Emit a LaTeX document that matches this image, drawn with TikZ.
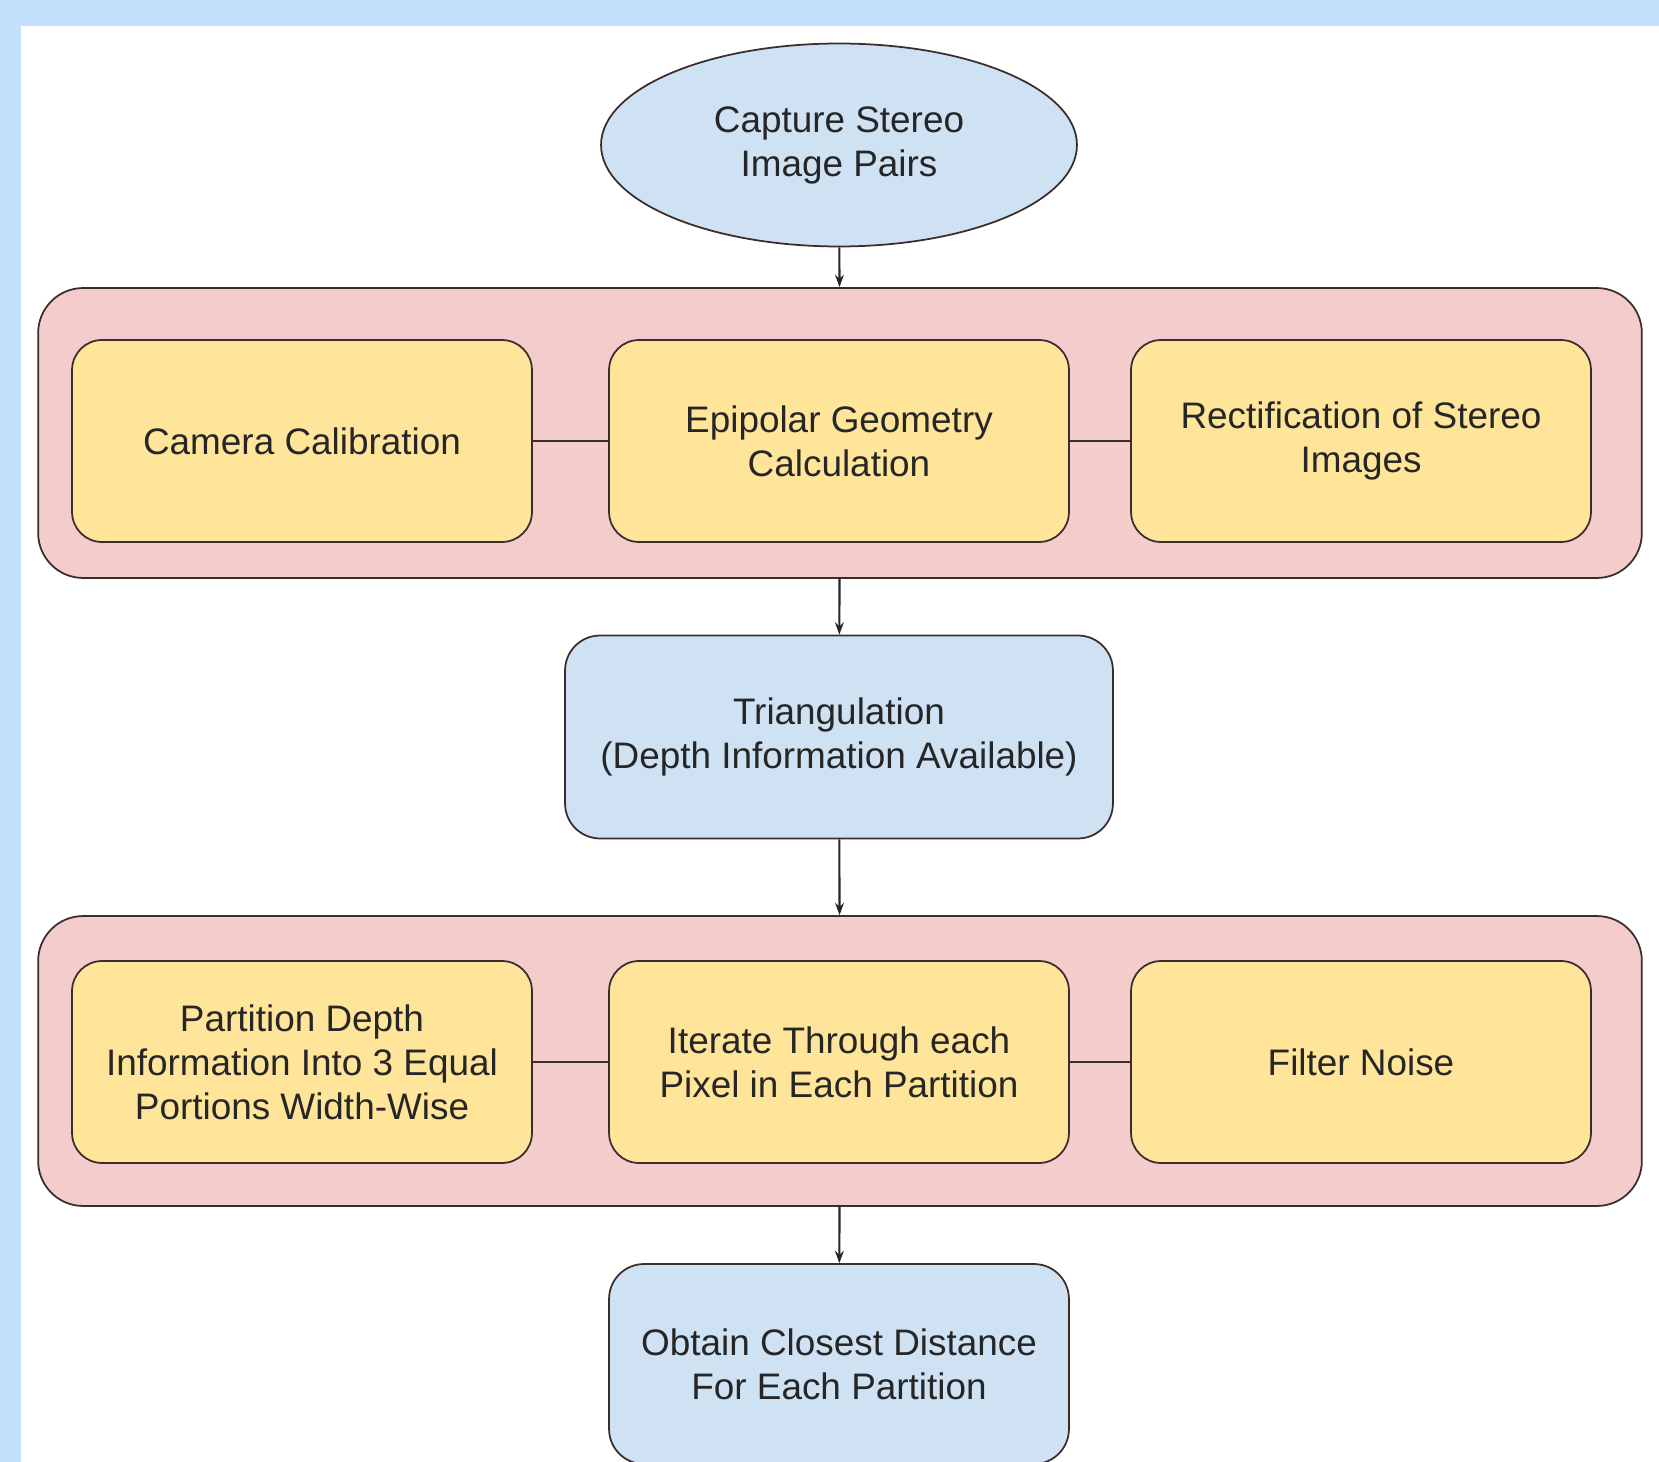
\documentclass[tikz,border=0pt]{standalone}
\usepackage{fontspec}
\setmainfont{Liberation Sans}
\usetikzlibrary{arrows.meta,shapes.geometric,positioning}

\definecolor{frameblue}{RGB}{196,225,252}
\definecolor{startblue}{RGB}{207,226,243}
\definecolor{grouppink}{RGB}{244,204,204}
\definecolor{stepyellow}{RGB}{255,229,153}
\definecolor{edgegray}{RGB}{60,45,45}

\begin{document}
\begin{tikzpicture}[x=0.02cm,y=-0.02cm,
		font=\fontsize{21}{25}\selectfont,
		every node/.style={text=black!85, align=center, line width=1pt, draw=edgegray},
		startnode/.style={ellipse, fill=startblue, minimum width=9.52cm, minimum height=4.06cm, inner sep=0pt},
		groupbox/.style={rectangle, rounded corners=0.9cm, fill=grouppink, minimum width=32.08cm, minimum height=5.8cm},
		stepbox/.style={rectangle, rounded corners=0.6cm, fill=stepyellow, minimum width=9.2cm, minimum height=4.04cm, inner sep=0pt},
		resultbox/.style={rectangle, rounded corners=0.7cm, fill=startblue, minimum height=4.06cm, inner sep=0pt},
		flow/.style={-{Stealth[length=7pt,width=5pt]}, line width=1.2pt, black!85},
		link/.style={line width=1.2pt, edgegray}]
		  % frame and page
		  \fill[frameblue] (0,0) rectangle (1659,1462);
		  \fill[white] (21,26) rectangle (1659,1462);
		  \useasboundingbox (0,0) rectangle (1659,1462);
		  % start
		  \node[startnode] (capture) at (839,145) {Capture Stereo\\Image Pairs};
		  % first group
		  \node[groupbox] (calib) at (840,433) {};
		  \node[stepbox] (camera) at (302,441) {Camera Calibration};
		  \node[stepbox] (epipolar) at (839,441) {Epipolar Geometry\\Calculation};
		  \node[stepbox] (rectify) at (1361,441) {Rectification of Stereo\\Images};
		  \draw[link] (camera) -- (epipolar);
		  \draw[link] (epipolar) -- (rectify);
		  % triangulation
		  \node[resultbox, minimum width=10.96cm] (triang) at (839,737) {Triangulation\\(Depth Information Available)};
		  % second group
		  \node[groupbox] (process) at (840,1061) {};
		  \node[stepbox] (partition) at (302,1062) {Partition Depth\\Information Into 3 Equal\\Portions Width-Wise};
		  \node[stepbox] (iterate) at (839,1062) {Iterate Through each\\Pixel in Each Partition};
		  \node[stepbox] (filter) at (1361,1062) {Filter Noise};
		  \draw[link] (partition) -- (iterate);
		  \draw[link] (iterate) -- (filter);
		  % result
		  \node[resultbox, minimum width=9.2cm, minimum height=4.0cm] (closest) at (839,1364) {Obtain Closest Distance\\For Each Partition};
		  % flow
		  \draw[flow] (capture) -- (calib);
		  \draw[flow] (calib) -- (triang);
		  \draw[flow] (triang) -- (process);
		  \draw[flow] (process) -- (closest);
		\end{tikzpicture}
\end{document}
